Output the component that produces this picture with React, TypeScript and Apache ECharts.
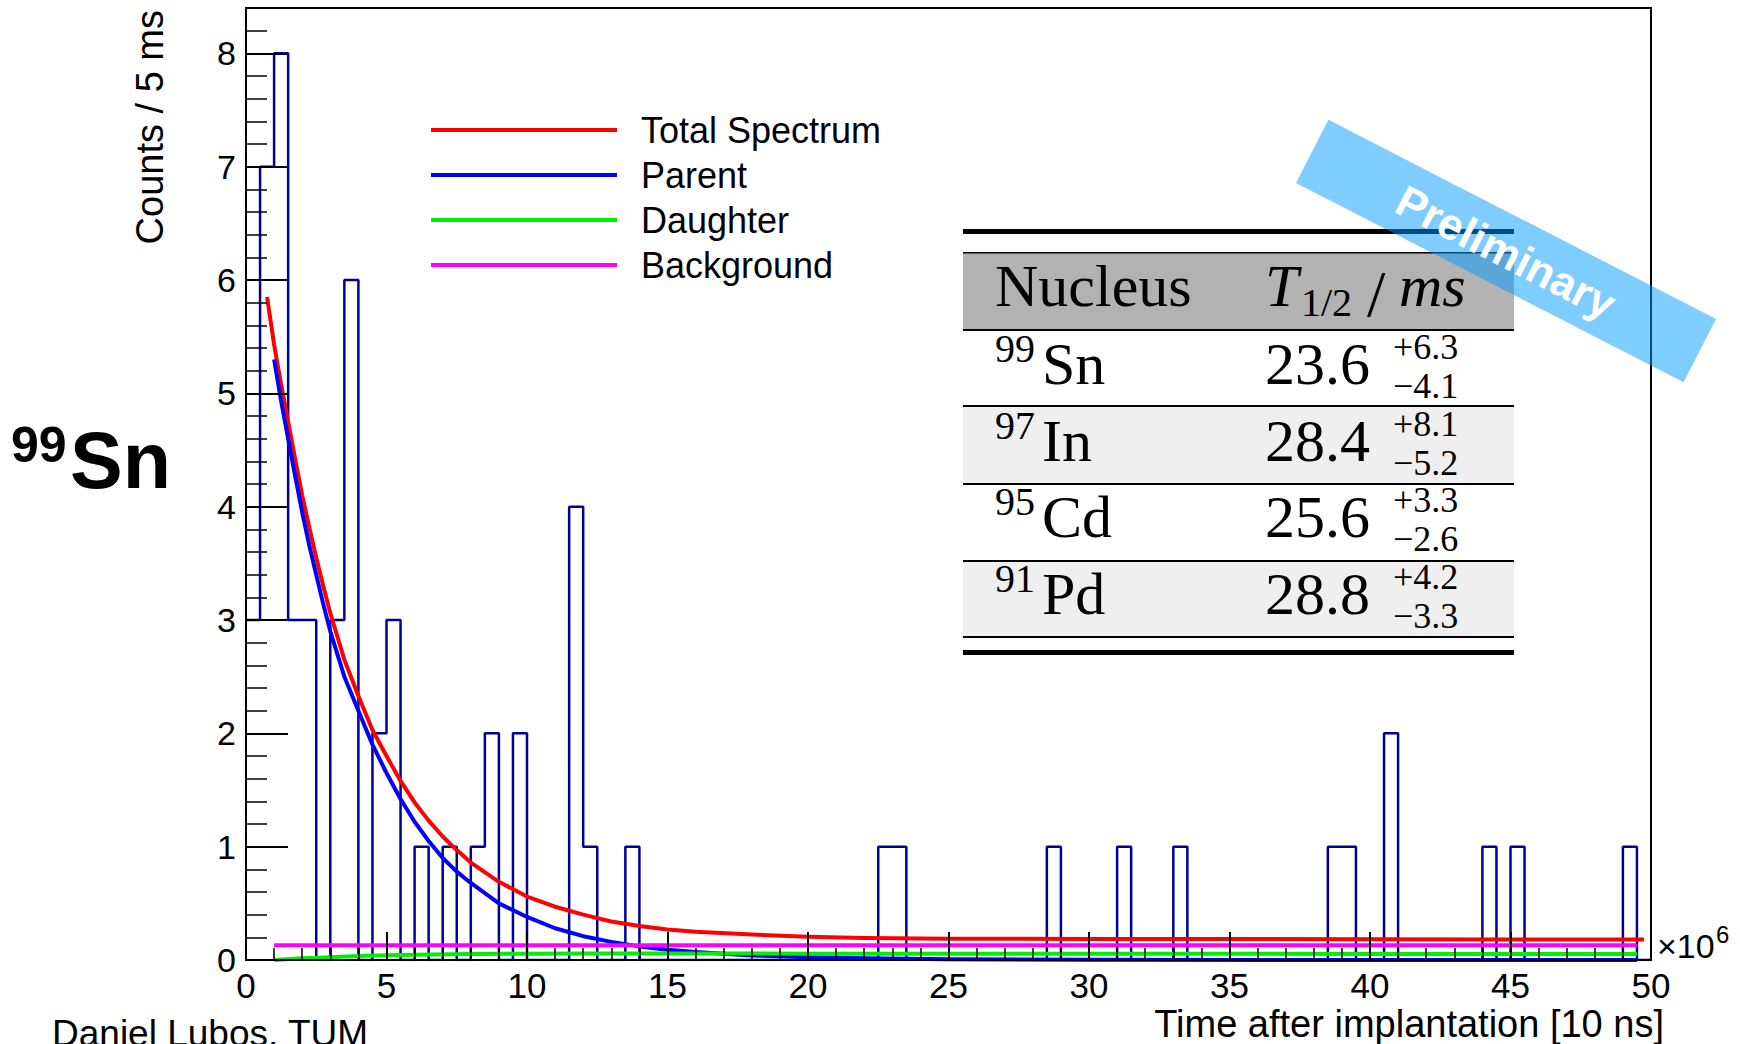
import React, { useEffect, useRef } from 'react';
import * as echarts from 'echarts';

// ---------- data ----------
const binWidth = 0.5;
const binCounts = [
  3, 7, 8, 3, 3, 0, 3, 6, 0, 2,
  3, 0, 1, 0, 1, 0, 1, 2, 0, 2,
  0, 0, 0, 4, 1, 0, 0, 1, 0, 0,
  0, 0, 0, 0, 0, 0, 0, 0, 0, 0,
  0, 0, 0, 0, 0, 1, 1, 0, 0, 0,
  0, 0, 0, 0, 0, 0, 0, 1, 0, 0,
  0, 0, 1, 0, 0, 0, 1, 0, 0, 0,
  0, 0, 0, 0, 0, 0, 0, 1, 1, 0,
  0, 2, 0, 0, 0, 0, 0, 0, 1, 0,
  1, 0, 0, 0, 0, 0, 0, 0, 1, 0,
];

const totalX = [0.75, 1, 1.25, 1.5, 1.75, 2, 2.25, 2.5, 2.75, 3, 3.5, 4, 4.5, 5, 5.5, 6, 6.5, 7, 7.5, 8, 9, 10, 11, 12, 13, 14, 15, 16, 18, 20, 22, 25, 30, 35, 40, 45, 49.75];
const totalY = [5.85, 5.43, 5.08, 4.75, 4.42, 4.1, 3.82, 3.55, 3.3, 3.06, 2.65, 2.33, 2.03, 1.8, 1.58, 1.39, 1.23, 1.09, 0.97, 0.86, 0.69, 0.56, 0.47, 0.4, 0.34, 0.3, 0.27, 0.25, 0.225, 0.205, 0.195, 0.188, 0.185, 0.185, 0.183, 0.18, 0.18];

const parentX = [1, 1.25, 1.5, 1.75, 2, 2.25, 2.5, 2.75, 3, 3.5, 4, 4.5, 5, 5.5, 6, 6.5, 7, 7.5, 8, 9, 10, 11, 12, 13, 14, 15, 16, 18, 20, 22, 25, 30, 40, 49.5];
const parentY = [5.3, 4.93, 4.6, 4.27, 3.95, 3.66, 3.4, 3.14, 2.9, 2.5, 2.2, 1.9, 1.65, 1.42, 1.22, 1.05, 0.9, 0.78, 0.68, 0.5, 0.38, 0.28, 0.21, 0.16, 0.12, 0.09, 0.07, 0.04, 0.025, 0.015, 0.007, 0.002, 0, 0];

const daughterX = [1, 2, 3, 4, 5, 6, 8, 10, 12, 15, 20, 30, 40, 49.5];
const daughterY = [0, 0.015, 0.025, 0.035, 0.042, 0.047, 0.053, 0.056, 0.057, 0.057, 0.056, 0.055, 0.054, 0.053];

const backgroundX = [1, 49.5];
const backgroundY = [0.13, 0.13];

const seriesNames = ['Total Spectrum', 'Parent', 'Daughter', 'Background'];
const seriesColors = ['#ff0000', '#0000ff', '#00ee00', '#ff00ff'];

const xTickLabels = ['0', '5', '10', '15', '20', '25', '30', '35', '40', '45', '50'];
const yTickLabels = ['0', '1', '2', '3', '4', '5', '6', '7', '8'];

// table
const tableHeader = ['Nucleus', 'T', '1/2', '/', 'ms'];
const massNumbers = ['99', '97', '95', '91'];
const elements = ['Sn', 'In', 'Cd', 'Pd'];
const halfLives = ['23.6', '28.4', '25.6', '28.8'];
const errorsUp = ['+6.3', '+8.1', '+3.3', '+4.2'];
const errorsDown = ['\u22124.1', '\u22125.2', '\u22122.6', '\u22123.3'];

// ---------- styles ----------
const SANS = '"Liberation Sans", Arial, Helvetica, sans-serif';
const SERIF = '"Liberation Serif", "Times New Roman", serif';

function pairs(xs: number[], ys: number[]) {
  return xs.map((x, i) => [x, ys[i]]);
}

function buildOption() {
  const histData: number[][] = binCounts.map((v, i) => [i * binWidth, v]);
  histData.push([binCounts.length * binWidth, binCounts[binCounts.length - 1]]);

  const curveSets = [
    pairs(totalX, totalY),
    pairs(parentX, parentY),
    pairs(daughterX, daughterY),
    pairs(backgroundX, backgroundY),
  ];

  const curveSeries = seriesNames.map((name, k) => ({
    name,
    type: 'line',
    data: curveSets[k],
    showSymbol: false,
    symbol: 'none',
    smooth: false,
    lineStyle: { color: seriesColors[k], width: 4, join: 'round' },
    itemStyle: { color: seriesColors[k] },
    z: 3 + k,
    silent: true,
  }));

  // ---- table graphic ----
  const tL = 963, tR = 1514, tW = tR - tL;
  const rowTops = [330, 406, 484, 561];
  const rowH = [76, 78, 77, 76];
  const rowBase = [384, 461, 537.5, 614];
  const tableEls: any[] = [];
  tableEls.push({ type: 'rect', shape: { x: tL, y: 229, width: tW, height: 5 }, style: { fill: '#000' } });
  tableEls.push({ type: 'rect', shape: { x: tL, y: 253, width: tW, height: 77 }, style: { fill: '#b2b2b2' } });
  tableEls.push({ type: 'rect', shape: { x: tL, y: 252, width: tW, height: 1.5 }, style: { fill: '#000' } });
  rowTops.forEach((t, r) => {
    tableEls.push({ type: 'rect', shape: { x: tL, y: t, width: tW, height: rowH[r] }, style: { fill: r % 2 === 1 ? '#efefef' : '#ffffff' } });
  });
  [330, 406, 484, 561, 637].forEach((y) => {
    tableEls.push({ type: 'rect', shape: { x: tL, y: y - 1, width: tW, height: 2 }, style: { fill: '#000' } });
  });
  tableEls.push({ type: 'rect', shape: { x: tL, y: 650, width: tW, height: 5 }, style: { fill: '#000' } });

  const mid = (base: number, fs: number) => base - 0.34 * fs;
  const FS = 60;
  const EFS = 36;
  const hb = 306;
  tableEls.push({ type: 'text', x: 995, y: mid(hb, FS), style: { text: tableHeader[0], font: `${FS}px ${SERIF}`, fill: '#000', align: 'left', verticalAlign: 'middle' } });
  tableEls.push({ type: 'text', x: 1265, y: mid(hb, FS), style: { text: tableHeader[1], font: `italic ${FS}px ${SERIF}`, fill: '#000', align: 'left', verticalAlign: 'middle' } });
  tableEls.push({ type: 'text', x: 1301, y: mid(316, 40), style: { text: tableHeader[2], font: `40px ${SERIF}`, fill: '#000', align: 'left', verticalAlign: 'middle' } });
  tableEls.push({ type: 'text', x: 1367, y: mid(316, 66), style: { text: tableHeader[3], font: `66px ${SERIF}`, fill: '#000', align: 'left', verticalAlign: 'middle' } });
  tableEls.push({ type: 'text', x: 1399, y: mid(hb, FS), style: { text: tableHeader[4], font: `italic ${FS}px ${SERIF}`, fill: '#000', align: 'left', verticalAlign: 'middle' } });

  elements.forEach((el, r) => {
    const b = rowBase[r];
    tableEls.push({ type: 'text', x: 995, y: mid(b - 22, 40), style: { text: massNumbers[r], font: `40px ${SERIF}`, fill: '#000', align: 'left', verticalAlign: 'middle' } });
    tableEls.push({ type: 'text', x: 1042, y: mid(b, FS), style: { text: el, font: `${FS}px ${SERIF}`, fill: '#000', align: 'left', verticalAlign: 'middle' } });
    tableEls.push({ type: 'text', x: 1265, y: mid(b, FS), style: { text: halfLives[r], font: `${FS}px ${SERIF}`, fill: '#000', align: 'left', verticalAlign: 'middle' } });
    tableEls.push({ type: 'text', x: 1393, y: mid(b - 25, EFS), style: { text: errorsUp[r], font: `${EFS}px ${SERIF}`, fill: '#000', align: 'left', verticalAlign: 'middle' } });
    tableEls.push({ type: 'text', x: 1393, y: mid(b + 14, EFS), style: { text: errorsDown[r], font: `${EFS}px ${SERIF}`, fill: '#000', align: 'left', verticalAlign: 'middle' } });
  });

  const graphic: any[] = [
    { type: 'group', z: 50, children: tableEls },
    // Preliminary banner
    {
      type: 'rect', z: 60, x: 1506, y: 251, rotation: -0.475,
      shape: { x: -218, y: -35.5, width: 436, height: 71 },
      style: { fill: 'rgba(0,153,255,0.5)' },
    },
    {
      type: 'text', z: 61, x: 1506, y: 252, rotation: -0.475,
      style: { text: 'Preliminary', font: `bold 44px ${SANS}`, fill: '#ffffff', align: 'center', verticalAlign: 'middle' },
    },
    // axis titles
    {
      type: 'text', z: 20, x: 150, y: 10, rotation: Math.PI / 2,
      style: { text: 'Counts / 5 ms', font: `38px ${SANS}`, fill: '#000', align: 'right', verticalAlign: 'middle' },
    },
    {
      type: 'text', z: 20, x: 1664, y: 1024,
      style: { text: 'Time after implantation [10 ns]', font: `38px ${SANS}`, fill: '#000', align: 'right', verticalAlign: 'middle' },
    },
    {
      type: 'text', z: 20, x: 1657, y: 946,
      style: { text: '\u00d710', font: `34px ${SANS}`, fill: '#000', align: 'left', verticalAlign: 'middle' },
    },
    {
      type: 'text', z: 20, x: 1716, y: 934,
      style: { text: '6', font: `24px ${SANS}`, fill: '#000', align: 'left', verticalAlign: 'middle' },
    },
    // nucleus label
    {
      type: 'text', z: 20, x: 11, y: 445,
      style: { text: '99', font: `bold 50px ${SANS}`, fill: '#000', align: 'left', verticalAlign: 'middle' },
    },
    {
      type: 'text', z: 20, x: 70, y: 460,
      style: { text: 'Sn', font: `bold 79px ${SANS}`, fill: '#000', align: 'left', verticalAlign: 'middle' },
    },
    {
      type: 'text', z: 20, x: 52, y: 1033,
      style: { text: 'Daniel Lubos, TUM', font: `37px ${SANS}`, fill: '#000', align: 'left', verticalAlign: 'middle' },
    },
  ];

  return {
    animation: false,
    backgroundColor: '#ffffff',
    grid: {
      left: 246, top: 8, width: 1405, height: 952,
      show: true, borderColor: '#000', borderWidth: 2, backgroundColor: 'transparent',
    },
    legend: {
      data: seriesNames,
      orient: 'vertical',
      left: 426,
      top: 103,
      icon: 'rect',
      itemWidth: 186,
      itemHeight: 4,
      itemGap: 1,
      selectedMode: false,
      textStyle: { fontSize: 36, fontFamily: SANS, color: '#000', lineHeight: 44, padding: [0, 0, 0, 19] },
    },
    xAxis: {
      type: 'value', min: 0, max: 50, interval: 5, z: 10,
      axisLine: { show: true, onZero: false, lineStyle: { color: '#000', width: 2 } },
      axisTick: { show: true, inside: true, length: 28, lineStyle: { color: '#000', width: 2 } },
      minorTick: { show: true, splitNumber: 5, length: 12, lineStyle: { color: '#000', width: 1.5 } },
      splitLine: { show: false },
      minorSplitLine: { show: false },
      axisLabel: {
        margin: 8, fontSize: 35, fontFamily: SANS, color: '#000',
        formatter: (v: number) => xTickLabels[Math.round(v / 5)] ?? '',
      },
    },
    yAxis: [
      {
        type: 'value', min: 0, max: 8.4, interval: 1, z: 10,
        axisLine: { show: true, onZero: false, lineStyle: { color: '#000', width: 2 } },
        axisTick: { show: true, inside: true, length: 42, lineStyle: { color: '#000', width: 2 } },
        splitLine: { show: false },
        axisLabel: {
          margin: 10, fontSize: 34, fontFamily: SANS, color: '#000', showMaxLabel: false,
          formatter: (v: number) => (Number.isInteger(v) ? yTickLabels[v] ?? '' : ''),
        },
      },
      {
        type: 'value', min: 0, max: 8.4, interval: 0.2, position: 'left', z: 10,
        axisLine: { show: false },
        axisTick: { show: true, inside: true, length: 21, lineStyle: { color: '#000', width: 1.5 } },
        splitLine: { show: false },
        axisLabel: { show: false },
      },
    ],
    series: [
      {
        name: 'Histogram',
        type: 'line',
        step: 'end',
        data: histData,
        symbol: 'none',
        showSymbol: false,
        lineStyle: { color: '#000099', width: 2.5 },
        z: 2,
        silent: true,
      },
      ...curveSeries,
    ],
    graphic,
  };
}

export default function App() {
  const ref = useRef<HTMLDivElement>(null);
  useEffect(() => {
    if (!ref.current) return;
    const chart = echarts.init(ref.current, null, { renderer: 'svg' });
    chart.setOption(buildOption() as any);
    return () => chart.dispose();
  }, []);
  return (
    <div
      ref={ref}
      style={{ position: 'fixed', left: 0, top: 0, width: 1740, height: 1044, background: '#ffffff' }}
    />
  );
}
